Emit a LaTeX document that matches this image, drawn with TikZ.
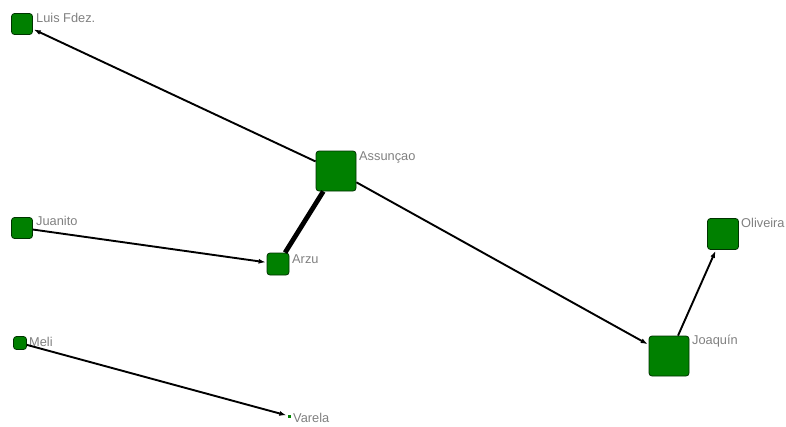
\documentclass[tikz,border=0pt]{standalone}
\usepackage{fontspec}
\setmainfont{Liberation Sans}
\usetikzlibrary{arrows.meta}
\definecolor{nodegreen}{RGB}{0,128,0}
\definecolor{labelgray}{RGB}{128,128,128}
\tikzset{
  actor/.style={draw=black!80!green, fill=nodegreen, rounded corners=3pt, line width=0.8pt, inner sep=0pt, minimum size=#1},
  lbl/.style={anchor=north west, inner sep=0pt, text=labelgray, font=\fontsize{12.8}{12.8}\selectfont},
  tie/.style={draw=black, line width=1.9pt, -{Latex[length=7pt,width=5pt]}, shorten >=1pt},
  strongtie/.style={draw=black, line width=4.8pt}
}
\begin{document}
\begin{tikzpicture}[x=1pt,y=-1pt]
\useasboundingbox (0,0) rectangle (786,426);
\node[actor=21pt] (luis) at (22,24) {};
\node[actor=40pt] (assu) at (336,171) {};
\node[actor=21pt] (juan) at (22,228) {};
\node[actor=22pt] (arzu) at (278,264) {};
\node[actor=13pt] (meli) at (20,343) {};
\node[fill=nodegreen, inner sep=0pt, minimum size=3pt] (varela) at (289,416) {};
\node[actor=40pt] (joaq) at (669,356) {};
\node[actor=31pt] (oliv) at (723,234) {};

\node[lbl] (lluis) at (36,13) {Luis Fdez.};
\node[lbl] (lassu) at (359,151) {Assunçao};
\node[lbl] (ljuan) at (36,216) {Juanito};
\node[lbl] (larzu) at (292,254) {Arzu};
\node[lbl] (lmeli) at (29,337) {Meli};
\node[lbl] (lvar) at (293,413) {Varela};
\node[lbl] (ljoaq) at (692,335) {Joaquín};
\node[lbl] (loliv) at (741,218) {Oliveira};

\draw[tie] (assu) -- (luis);
\draw[tie] (juan) -- (arzu);
\draw[strongtie] (assu) -- (arzu);
\draw[tie] (assu) -- (joaq);
\draw[tie] (joaq) -- (oliv);
\draw[tie] (meli) -- (varela);
\end{tikzpicture}
\end{document}
